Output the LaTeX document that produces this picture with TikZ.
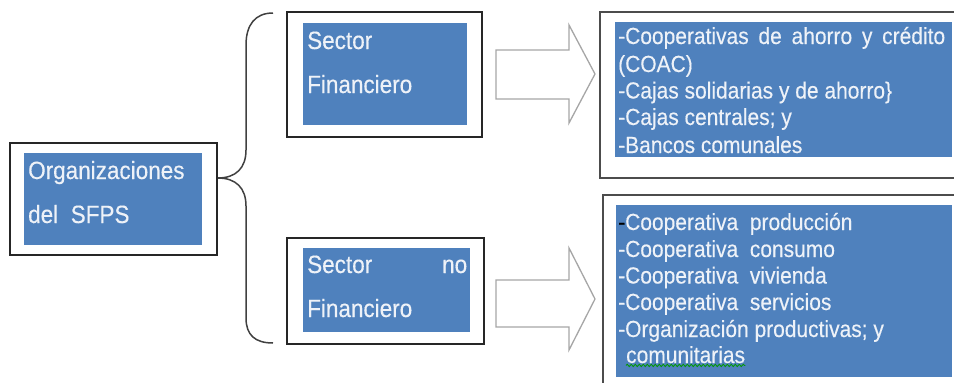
\documentclass[tikz,border=0pt]{standalone}
\usepackage{fontspec}
\setmainfont[FakeStretch=0.9,FakeBold=0.3]{Liberation Sans}
\usetikzlibrary{decorations.pathmorphing}
\definecolor{boxblue}{HTML}{4F81BD}
\definecolor{txt}{HTML}{EEF2F8}
\definecolor{arrgray}{HTML}{A6A6A6}
\definecolor{bracegray}{HTML}{404040}
\begin{document}
\begin{tikzpicture}[x=1pt,y=-1pt,
  frame/.style={draw=black!85, line width=1.6pt, inner sep=0pt},
  rframe/.style={draw=black!70, line width=1.6pt, inner sep=0pt},
  bluebox/.style={fill=boxblue, inner sep=0pt},
  lbl/.style={anchor=base west, inner sep=0pt, text=txt, font=\fontsize{25}{30}\selectfont},
  item/.style={anchor=base west, inner sep=0pt, text=txt, font=\fontsize{23.3}{27}\selectfont},
  blockarrow/.style={draw=arrgray, line width=1.3pt, fill=white, line join=miter},
  bracestyle/.style={draw=bracegray, line width=1.5pt}]
\useasboundingbox (0,0) rectangle (954,383);
\clip (0,0) rectangle (954,383);

% left box
\node[frame, minimum width=207pt, minimum height=112pt] (org) at (113.5,199) {};
\node[bluebox, minimum width=178pt, minimum height=92pt] (orgb) at (113,199) {};
\node[lbl] (t1) at (28,179) {Organizaciones};
\node[lbl] (t2) at (28,223) {del\ \ SFPS};

% sector financiero
\node[frame, minimum width=195pt, minimum height=125pt] (sf) at (384.5,74.5) {};
\node[bluebox, minimum width=164pt, minimum height=102pt] (sfb) at (385,74) {};
\node[lbl] (s1) at (307,49) {Sector};
\node[lbl] (s2) at (307,93) {Financiero};

% sector no financiero
\node[frame, minimum width=197pt, minimum height=106pt] (snf) at (385.5,291) {};
\node[bluebox, minimum width=167pt, minimum height=84pt] (snfb) at (386.5,290) {};
\node[lbl] (n1) at (307,273) {\hbox to 160pt{Sector\hfill no}};
\node[lbl] (n2) at (307,317) {Financiero};

% brace
\coordinate (btop) at (273,13);
\coordinate (btip) at ([yshift=21pt]org.east);
\coordinate (bbot) at (273,343);
\draw[bracestyle] (btop) .. controls (255,13) and (246,25) .. (246,45) -- (246,150)
  .. controls (246,168) and (236,178) .. (btip)
  .. controls (236,178) and (246,188) .. (246,206) -- (246,318)
  .. controls (246,335) and (255,343) .. (bbot);

% block arrows
\draw[blockarrow] (496,50) -- (569,50) -- (569,25) -- (595,74) -- (569,123) -- (569,99) -- (496,99) -- cycle;
\draw[blockarrow] (496,280) -- (569,280) -- (569,248) -- (595,299) -- (569,350) -- (569,327) -- (496,327) -- cycle;

% right top box
\node[rframe, minimum width=370pt, minimum height=166pt] (rt) at (785,95) {};
\node[bluebox, minimum width=337pt, minimum height=135pt] (rtb) at (783.5,89.5) {};
\node[item] (r1) at (618,44) {\hbox to 327pt{-Cooperativas\hfill de\hfill ahorro\hfill y\hfill crédito}};
\node[item] (r2) at (618,72) {(COAC)};
\node[item] (r3) at (618,98.5) {-Cajas solidarias y de ahorro\}};
\node[item] (r4) at (618,125) {-Cajas centrales; y};
\node[item] (r5) at (618,153) {-Bancos comunales};

% right bottom box
\node[rframe, minimum width=367pt, minimum height=205pt] (rb) at (786.5,297.5) {};
\node[bluebox, minimum width=336pt, minimum height=172pt] (rbb) at (784,291) {};
\node[item] (q1) at (618,230) {\textcolor{black}{-}Cooperativa\ \ producción};
\node[item] (q2) at (618,257) {-Cooperativa\ \ consumo};
\node[item] (q3) at (618,283.5) {-Cooperativa\ \ vivienda};
\node[item] (q4) at (618,310) {-Cooperativa\ \ servicios};
\node[item] (q5) at (618,337) {-Organización productivas; y};
\node[item] (q6) at (626,363) {comunitarias};
\draw[green!60!black, line width=0.8pt, decorate, decoration={snake, amplitude=1.2pt, segment length=4pt}]
  ([yshift=-2pt]q6.south west) -- ([yshift=-2pt]q6.south east);
\end{tikzpicture}
\end{document}
